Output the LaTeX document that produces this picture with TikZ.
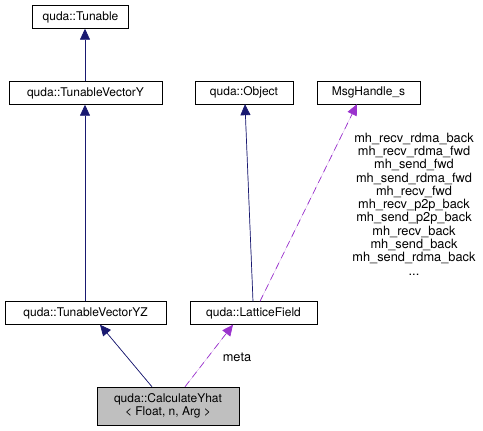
\documentclass[tikz,border=0pt]{standalone}
\usepackage{fontspec}
\setmainfont{TeX Gyre Heros}
\usetikzlibrary{arrows.meta}

\definecolor{inhcol}{HTML}{191970}
\definecolor{usecol}{HTML}{9A32CD}

\begin{document}
\begin{tikzpicture}[
    x=1pt, y=-1pt,
    box/.style={rectangle, draw, fill=white, inner sep=0pt, minimum height=23pt, font=\fontsize{12}{13}\selectfont},
    inherit/.style={-{Triangle[length=11pt,width=10pt]}, draw=inhcol, fill=inhcol, line width=0.7pt},
    uses/.style={-{Triangle[length=11pt,width=10pt]}, draw=usecol, fill=usecol, line width=0.7pt, dash pattern=on 7pt off 5pt},
    lbl/.style={font=\fontsize{12.8}{13.3}\selectfont, align=center, inner sep=0pt}
]
\useasboundingbox (0,0) rectangle (483,431);

% Base classes
\node[box, minimum width=96pt] (tunable) at (80.5,17) {quda::Tunable};
\node[box, minimum width=153pt] (tvy) at (85.5,93) {quda::TunableVectorY};
\node[box, minimum width=161pt] (tvyz) at (85.5,313) {quda::TunableVectorYZ};

% Field side
\node[box, minimum width=98pt] (object) at (244,92.5) {quda::Object};
\node[box, minimum width=103pt] (msg) at (368.5,92.5) {MsgHandle\_s};
\node[box, minimum width=127pt] (lattice) at (253.5,313) {quda::LatticeField};

% Derived class
\node[box, minimum width=142pt, minimum height=38pt, fill={rgb,255:red,191;green,191;blue,191}, align=center,
      font=\fontsize{12}{13}\selectfont] (yhat) at (168,406) {quda::CalculateYhat\\{<} Float, n, Arg {>}};

% Inheritance
\draw[inherit] (tvy.north -| 85,0) -- (tunable.south -| 85,0);
\draw[inherit] (tvyz.north -| 85,0) -- (tvy.south -| 85,0);
\draw[inherit] (lattice.north -| 253,0) -- (object.south -| 245,0);
\draw[inherit] (yhat.north -| 152,0) -- (tvyz.south -| 100,0);

% Members
\draw[uses] (lattice.north -| 260,0) -- (msg.south -| 357,0);
\draw[uses] (yhat.north -| 185,0) -- (lattice.south -| 233,0);

% Labels
\node[lbl] (metalbl) at (237,357) {meta};
\node[lbl] (msglbl) at (414,204) {mh\_recv\_rdma\_back\\mh\_recv\_rdma\_fwd\\mh\_send\_fwd\\mh\_send\_rdma\_fwd\\mh\_recv\_fwd\\mh\_recv\_p2p\_back\\mh\_send\_p2p\_back\\mh\_recv\_back\\mh\_send\_back\\mh\_send\_rdma\_back\\...};

\end{tikzpicture}
\end{document}
